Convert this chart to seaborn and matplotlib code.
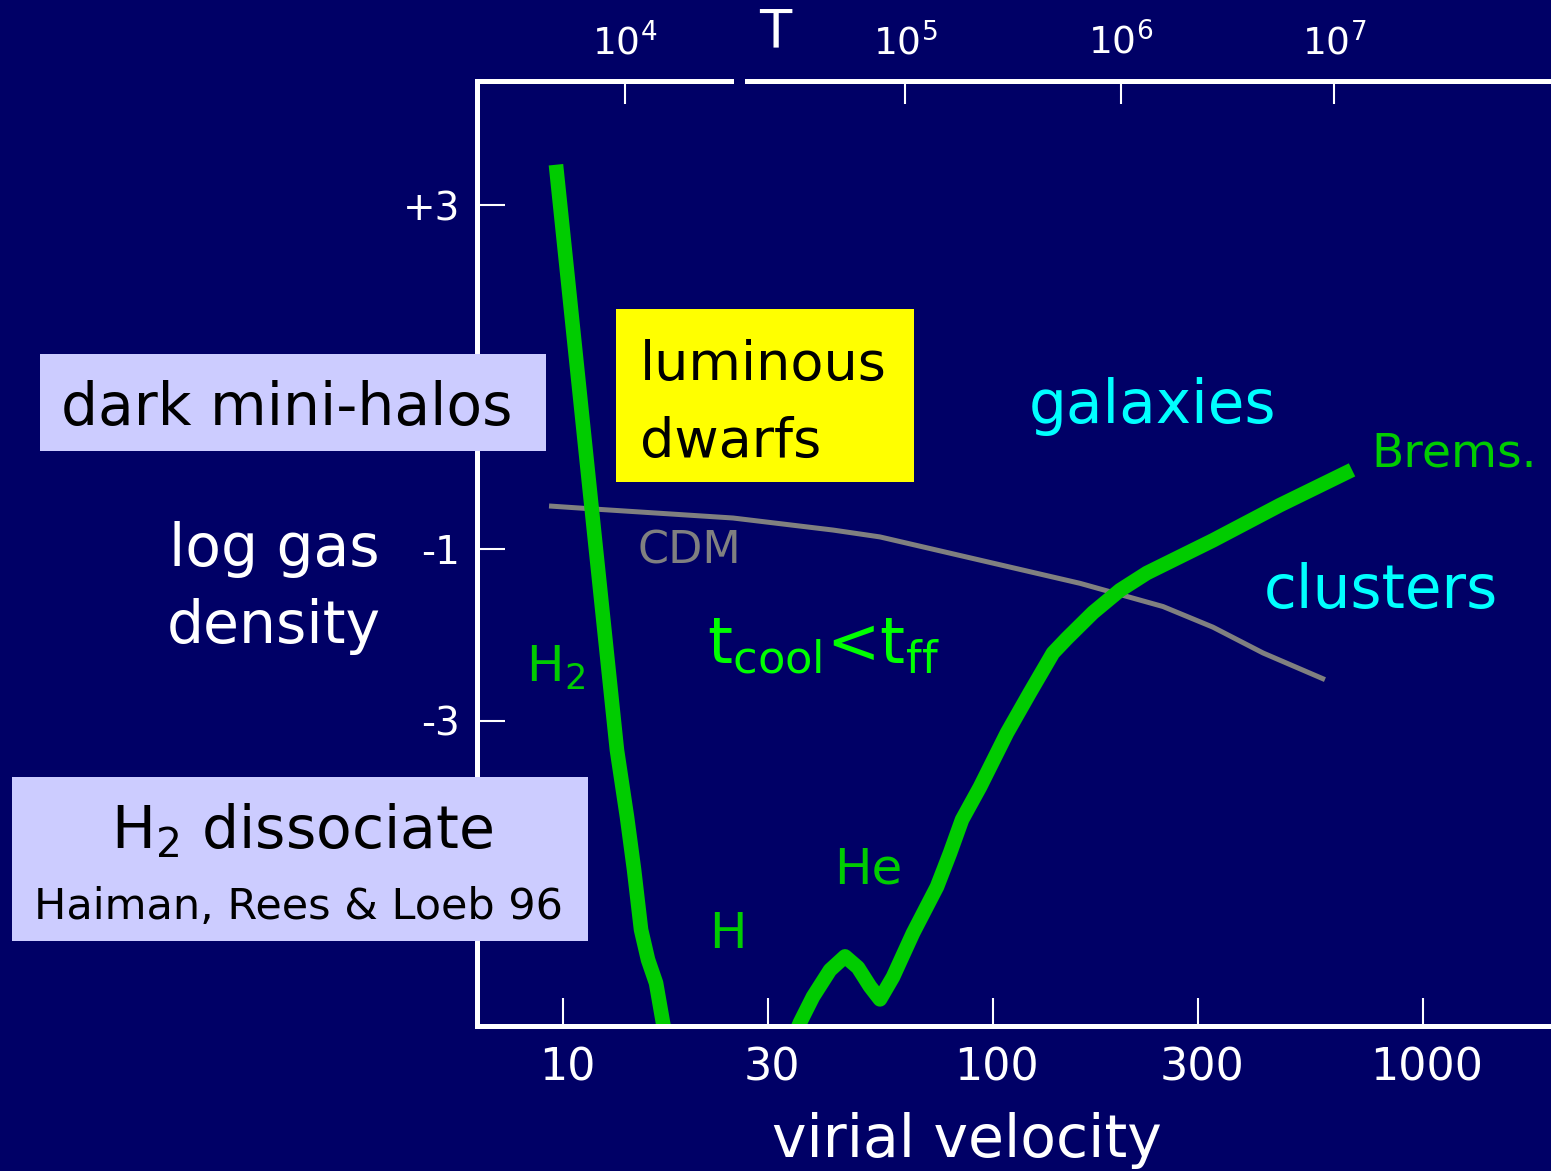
import matplotlib
matplotlib.use("Agg")
import matplotlib.pyplot as plt
import matplotlib.transforms as mtransforms
from matplotlib.patches import Rectangle
from matplotlib.ticker import NullLocator
import seaborn as sns

# H2 cooling boundary: virial velocity (km/s) vs log gas density
h2_velocity = [9.63, 11.87, 13.35, 14.09, 14.63, 15.19, 15.77, 16.46, 17.08, 17.36]
h2_density = [3.47, -0.90, -3.34, -4.12, -4.73, -5.43, -5.78, -6.05, -6.51, -6.71]

# atomic H / He line cooling joining the bremsstrahlung branch
atomic_velocity = [34.63, 35.58, 38.14, 41.78, 45.28, 48.53, 51.76, 54.60, 58.54,
                   65.16, 74.10, 79.43, 84.73, 93.28, 107.8, 121.9, 137.9, 148.6,
                   170.9, 197.4, 228.0, 324.8, 465.0, 683.9]
atomic_density = [-6.65, -6.51, -6.21, -5.90, -5.74, -5.87, -6.09, -6.24, -5.98,
                  -5.47, -4.93, -4.54, -4.15, -3.77, -3.14, -2.67, -2.21, -2.04,
                  -1.74, -1.48, -1.28, -0.90, -0.49, -0.08]

# typical CDM halo gas density
cdm_velocity = [9.28, 12.19, 24.86, 42.46, 54.60, 93.28, 159.4, 248.6, 324.8, 424.6, 591.6]
cdm_density = [-0.50, -0.54, -0.64, -0.78, -0.86, -1.13, -1.40, -1.67, -1.91, -2.21, -2.52]

velocity_ticks = [10, 30, 100, 300, 1000]
velocity_labels = ["10", "30", "100", "300", "1000"]
density_ticks = [3, -1, -3]
density_labels = ["+3", "-1", "-3"]
temperature_exponents = [4, 5, 6, 7]
temperature_tick_velocity = [13.94, 62.43, 198.5, 620.9]

W, H = 1551, 1171
BG = "#000066"
GREEN = "#00CC00"
LIME = "#00FF00"
CYAN = "#00FFFF"
GRAY = "#808080"
LAVENDER = "#CCCCFF"
YELLOW = "#FFFF00"

sns.set_theme(style="white")
plt.rcParams["font.family"] = ["DejaVu Sans"]
plt.rcParams["mathtext.default"] = "regular"

fig = plt.figure(figsize=(W / 100, H / 100), dpi=100, facecolor=BG)
ax = fig.add_axes([477 / W, 1 - 1026 / H, 1 - 477 / W, (1026 - 80.5) / H])
ax.set_facecolor(BG)
ax.set_xscale("log")
x_lo, x_hi = 6.31, 1985
y_lo, y_hi = -6.55, 4.45
ax.set_xlim(x_lo, x_hi)
ax.set_ylim(y_lo, y_hi)

sns.lineplot(x=cdm_velocity, y=cdm_density, sort=False, estimator=None,
             color=GRAY, linewidth=3.6, solid_capstyle="butt",
             solid_joinstyle="round", ax=ax)
sns.lineplot(x=h2_velocity, y=h2_density, sort=False, estimator=None,
             color=GREEN, linewidth=10.5, solid_capstyle="butt",
             solid_joinstyle="round", ax=ax)
sns.lineplot(x=atomic_velocity, y=atomic_density, sort=False, estimator=None,
             color=GREEN, linewidth=10.5, solid_capstyle="butt",
             solid_joinstyle="round", ax=ax)

# frame: left and bottom spines, top edge broken for the T label
for side in ("top", "right"):
    ax.spines[side].set_visible(False)
for side in ("left", "bottom"):
    ax.spines[side].set_color("white")
    ax.spines[side].set_linewidth(3.6)
gap_lo, gap_hi = 24.6, 26.8
top_lines = ax.hlines([y_hi, y_hi], [x_lo, gap_hi], [gap_lo, x_hi],
                      colors="white", linewidth=3.6, clip_on=False)
top_lines.set_capstyle("projecting")

ax.set_xticks(velocity_ticks, velocity_labels)
ax.set_yticks(density_ticks, density_labels)
ax.xaxis.set_minor_locator(NullLocator())
ax.tick_params(axis="both", which="major", direction="in", colors="white",
               width=1.5, length=20, bottom=True, left=True)
ax.tick_params(axis="x", labelsize=32, pad=15)
ax.tick_params(axis="y", labelsize=28, pad=12)
shift = mtransforms.ScaledTranslation(4 / 100, 0, fig.dpi_scale_trans)
for lab in ax.get_xticklabels():
    lab.set_transform(lab.get_transform() + shift)

ax.set_xlabel("virial velocity", color="white", fontsize=42)
ax.xaxis.label.set_va("baseline")
ax.xaxis.set_label_coords((967 - 477) / (W - 477), -(1157 - 1026) / (1026 - 80.5))

# temperature scale along the top
ax_t = ax.twiny()
ax_t.set_xscale("log")
ax_t.set_xlim(x_lo, x_hi)
ax_t.set_xticks(temperature_tick_velocity,
                [f"$10^{{{e}}}$" for e in temperature_exponents])
ax_t.xaxis.set_minor_locator(NullLocator())
for side in ax_t.spines.values():
    side.set_visible(False)
ax_t.tick_params(axis="x", which="major", direction="in", colors="white",
                 width=1.5, length=16.5, top=True, labelsize=27, pad=13)


def px_text(x, y, s, **kw):
    fig.text(x / W, 1 - y / H, s, zorder=4, **kw)


def px_box(x0, y0, x1, y1, color):
    fig.add_artist(Rectangle((x0 / W, 1 - y1 / H), (x1 - x0) / W, (y1 - y0) / H,
                             transform=fig.transFigure, facecolor=color,
                             edgecolor="none", zorder=3))


px_text(775, 47, "T", color="white", fontsize=38, ha="center", va="baseline")
px_text(274, 566, "log gas", color="white", fontsize=42, ha="center", va="baseline")
px_text(274, 643, "density", color="white", fontsize=42, ha="center", va="baseline")

px_box(40, 354, 546, 451, LAVENDER)
px_text(287, 425, "dark mini-halos", color="black", fontsize=42, ha="center", va="baseline")

px_box(12, 777, 588, 941, LAVENDER)
px_text(302, 848, "H$_2$ dissociate", color="black", fontsize=42, ha="center", va="baseline")
px_text(298, 919, "Haiman, Rees & Loeb 96", color="black", fontsize=31, ha="center", va="baseline")

px_box(616, 309, 914, 482, YELLOW)
px_text(640, 380, "luminous", color="black", fontsize=39, ha="left", va="baseline")
px_text(640, 457, "dwarfs", color="black", fontsize=39, ha="left", va="baseline")

px_text(1153, 423, "galaxies", color=CYAN, fontsize=43, ha="center", va="baseline")
px_text(1381, 608, "clusters", color=CYAN, fontsize=43, ha="center", va="baseline")
px_text(1371, 466, "Brems.", color=GREEN, fontsize=34, ha="left", va="baseline")
px_text(689, 563, "CDM", color=GRAY, fontsize=32, ha="center", va="baseline")
px_text(707, 663, "t$_{cool}$<t$_{ff}$", color=LIME, fontsize=46, ha="left", va="baseline")
px_text(526, 682, "H$_2$", color=GREEN, fontsize=36, ha="left", va="baseline")
px_text(728, 948, "H", color=GREEN, fontsize=36, ha="center", va="baseline")
px_text(868, 883, "He", color=GREEN, fontsize=36, ha="center", va="baseline")

fig.savefig("out.png", dpi=100, facecolor=BG)
